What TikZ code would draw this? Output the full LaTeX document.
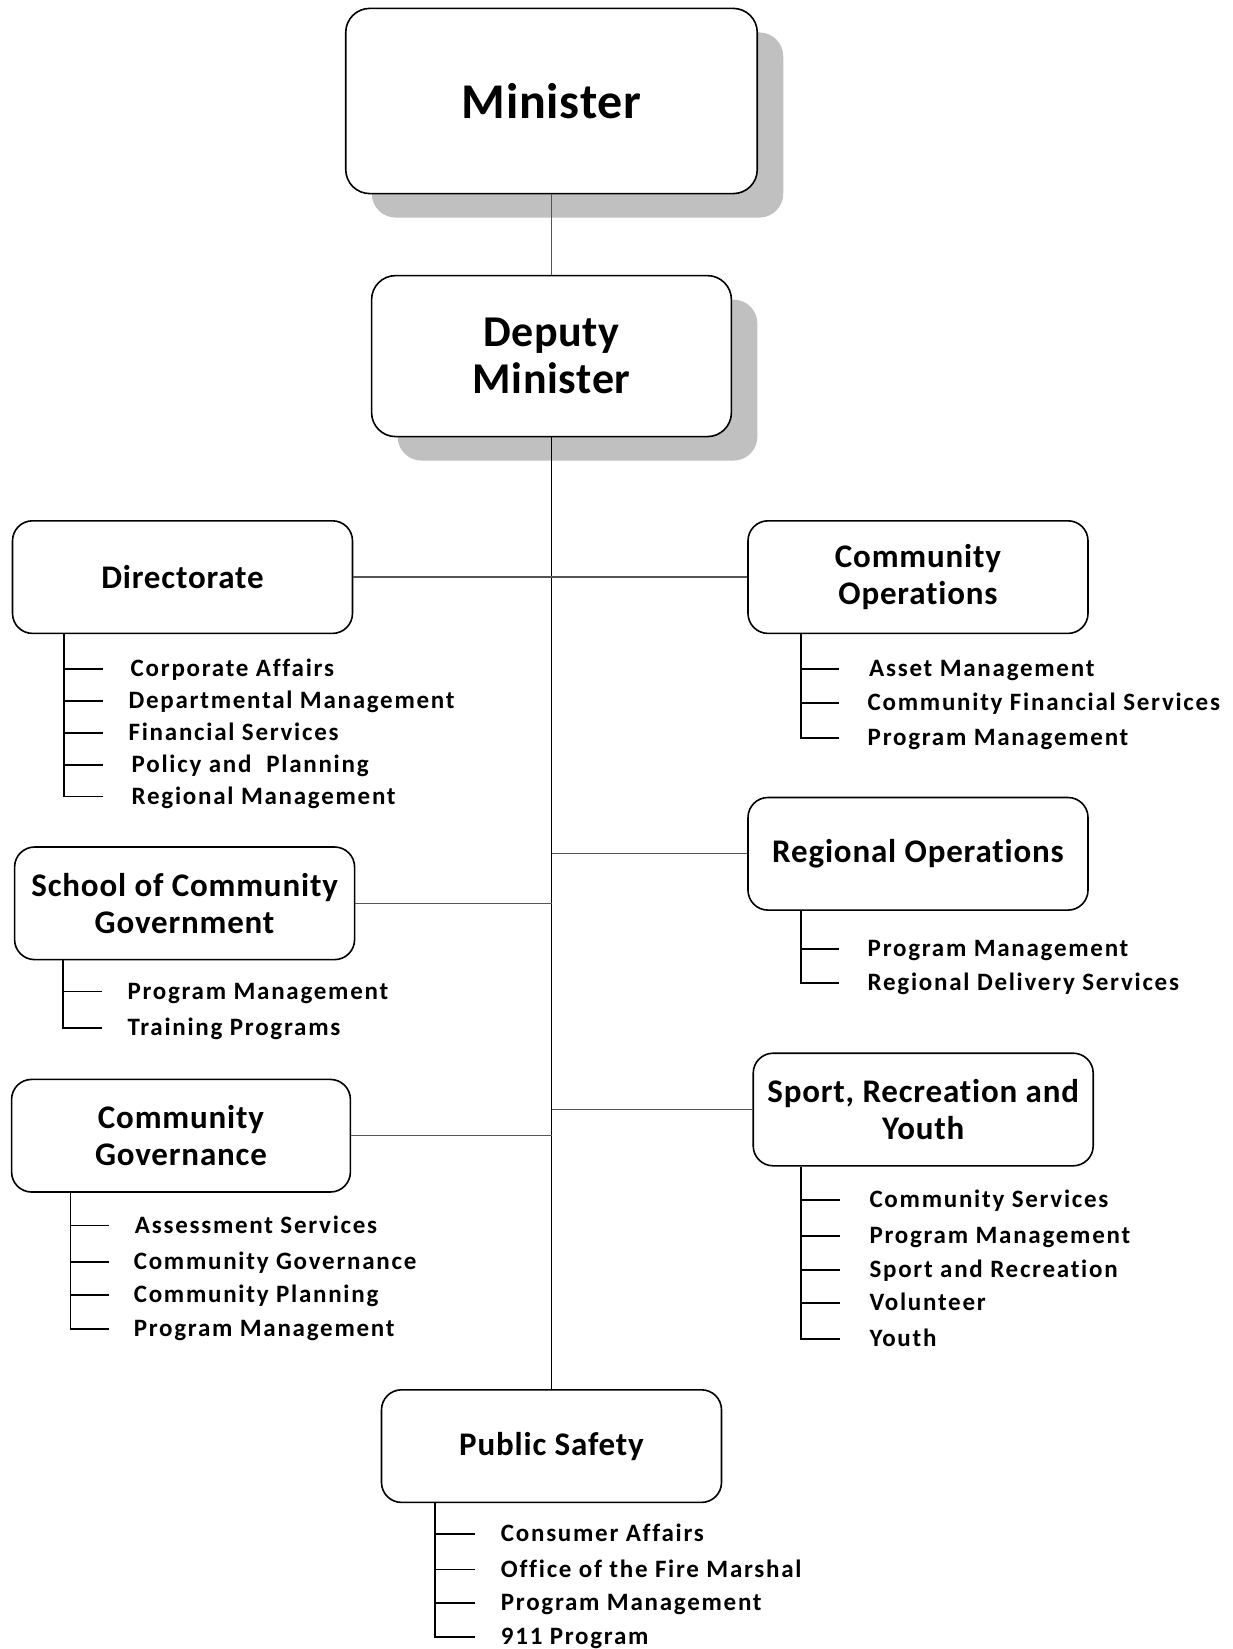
\documentclass[tikz,border=0pt]{standalone}
\usepackage{fontspec}
\setmainfont{Carlito}[Ligatures=NoCommon]
\newfontfamily\itemfont{Carlito}[LetterSpace=7, Ligatures=NoCommon]
\newfontfamily\hdfont{Carlito}[LetterSpace=2.5, Ligatures=NoCommon]
\newfontfamily\topfont{Carlito}[LetterSpace=1.5, Ligatures=NoCommon]
\usetikzlibrary{shadows}
\definecolor{shadowgray}{RGB}{192,192,192}
\definecolor{linegray}{RGB}{85,85,85}
\tikzset{
  box/.style={draw=black, line width=1.6pt, rounded corners=20pt, fill=white,
    minimum width=340pt, minimum height=112.6pt, align=center, inner sep=0pt,
    font=\hdfont\bfseries\fontsize{33}{37}\selectfont},
  topbox/.style={box, rounded corners=24pt,
    drop shadow={shadow xshift=26pt, shadow yshift=-24pt, fill=shadowgray, opacity=1}},
  branch/.style={draw=linegray, line width=1.3pt},
  spine/.style={draw=black, line width=1.8pt},
  sub/.style={draw=black, line width=1.8pt},
  item/.style={anchor=base west, inner sep=0pt, font=\itemfont\bfseries\fontsize{25}{29}\selectfont}
}
\begin{document}
\begin{tikzpicture}[x=1pt,y=-1pt]
\useasboundingbox (0,0) rectangle (1233,1649);
% top boxes
\node[topbox, minimum width=411.5pt, minimum height=185.2pt, font=\topfont\bfseries\fontsize{50}{58}\selectfont] (min) at (551.5,101) {Minister};
\node[topbox, minimum width=359.8pt, minimum height=161pt, font=\topfont\bfseries\fontsize{44}{47.3}\selectfont] (dep) at (551.5,356.1) {Deputy\\Minister};
% division boxes
\node[box] (dir) at (182.5,577.1) {Directorate};
\node[box] (cop) at (918,577.1) {Community\\Operations};
\node[box] (sch) at (184.6,903.3) {School of Community\\Government};
\node[box] (rop) at (918,853.8) {Regional Operations};
\node[box, minimum width=338.8pt] (cgv) at (181,1135.7) {Community\\Governance};
\node[box] (spt) at (923.2,1109.5) {Sport, Recreation and\\Youth};
\node[box] (pub) at (551.5,1446.1) {Public Safety};
% tree connectors
\draw[branch] (min.south) -- (dep.north);
\draw[spine] (dep.south) -- (pub.north);
\draw[branch] (dir.east) -- (dir.east -| dep.south);
\draw[branch] (cop.west) -- (cop.west -| dep.south);
\draw[branch] (sch.east) -- (sch.east -| dep.south);
\draw[branch] (rop.west) -- (rop.west -| dep.south);
\draw[branch] (cgv.east) -- (cgv.east -| dep.south);
\draw[branch] (spt.west) -- (spt.west -| dep.south);
% Directorate list
\draw[sub] (dir.south -| 64.2,0) |- (103,796.4);
\foreach \y in {669,700.7,733.3,764.9} \draw[sub] (64.2,\y) -- (103,\y);
\node[item] (dir1) at (130.5,676.6) {Corporate Affairs};
\node[item] (dir2) at (128.4,708.3) {Departmental Management};
\node[item] (dir3) at (128.4,740.9) {Financial Services};
\node[item] (dir4) at (131.5,772.5) {Policy and\ \ Planning};
\node[item] (dir5) at (131.5,804) {Regional Management};
% Community Operations list
\draw[sub] (cop.south -| 800.6,0) |- (839,737.7);
\foreach \y in {669.2,703.3} \draw[sub] (800.6,\y) -- (839,\y);
\node[item] (cop1) at (869,676.8) {Asset Management};
\node[item] (cop2) at (867.5,710.9) {Community Financial Services};
\node[item] (cop3) at (867.5,745.3) {Program Management};
% School list
\draw[sub] (sch.south -| 63.1,0) |- (102,1028);
\draw[sub] (63.1,991.5) -- (102,991.5);
\node[item] (sch1) at (127.3,999.1) {Program Management};
\node[item] (sch2) at (127.3,1035.6) {Training Programs};
% Regional list
\draw[sub] (rop.south -| 800.6,0) |- (839,983);
\draw[sub] (800.6,948.6) -- (839,948.6);
\node[item] (rop1) at (867.5,956.2) {Program Management};
\node[item] (rop2) at (867.5,990.6) {Regional Delivery Services};
% Community Governance list
\draw[sub] (cgv.south -| 70.5,0) |- (109.4,1329);
\foreach \y in {1225.5,1262,1295.3} \draw[sub] (70.5,\y) -- (109.4,\y);
\node[item] (cgv1) at (134.7,1233.1) {Assessment Services};
\node[item] (cgv2) at (133.6,1269.6) {Community Governance};
\node[item] (cgv3) at (133.6,1302.9) {Community Planning};
\node[item] (cgv4) at (133.6,1336.6) {Program Management};
% Sport list
\draw[sub] (spt.south -| 800.6,0) |- (840,1339.3);
\foreach \y in {1199.8,1236,1270,1303} \draw[sub] (800.6,\y) -- (840,\y);
\node[item] (spt1) at (869.3,1207.4) {Community Services};
\node[item] (spt2) at (869.3,1243.6) {Program Management};
\node[item] (spt3) at (869.3,1277.6) {Sport and Recreation};
\node[item] (spt4) at (869.3,1310.6) {Volunteer};
\node[item] (spt5) at (869.3,1346.9) {Youth};
% Public Safety list
\draw[sub] (pub.south -| 435.3,0) |- (475,1637);
\foreach \y in {1534.2,1569.5,1602.8} \draw[sub] (435.3,\y) -- (475,\y);
\node[item] (pub1) at (500.7,1541.8) {Consumer Affairs};
\node[item] (pub2) at (500.7,1577.1) {Office of the Fire Marshal};
\node[item] (pub3) at (500.7,1610.4) {Program Management};
\node[item] (pub4) at (500.7,1644.6) {911 Program};
\end{tikzpicture}
\end{document}
